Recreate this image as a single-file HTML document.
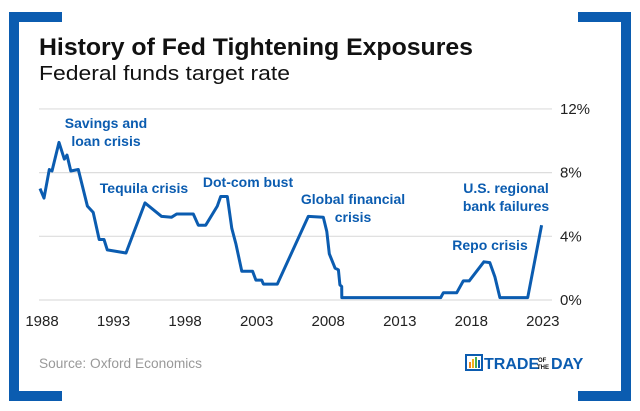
<!DOCTYPE html>
<html><head><meta charset="utf-8"><style>
body{margin:0;background:#fff;font-family:"Liberation Sans",sans-serif}
svg{display:block}
</style></head><body>
<svg width="640" height="411" viewBox="0 0 640 411">
<g fill="#0b5cb0">
<rect x="9" y="12" width="10" height="389"/><rect x="9" y="12" width="53" height="10"/><rect x="9" y="391" width="53" height="10"/>
<rect x="621" y="12" width="10" height="389"/><rect x="578" y="12" width="53" height="10"/><rect x="578" y="391" width="53" height="10"/>
</g>
<text x="39" y="55" font-size="24" font-weight="bold" fill="#111" textLength="434" lengthAdjust="spacingAndGlyphs">History of Fed Tightening Exposures</text>
<text x="39" y="80" font-size="20" fill="#111" textLength="251" lengthAdjust="spacingAndGlyphs">Federal funds target rate</text>
<g id="grid"></g><g id="xt"></g><g id="yt"></g>
<path id="line" fill="none" stroke="#0b5cb0" stroke-width="3" stroke-linejoin="round"/>
<g font-size="14" font-weight="bold" fill="#0b5cb0" text-anchor="middle">
<text x="106" y="128">Savings and</text>
<text x="106" y="146">loan crisis</text>
<text x="144" y="193">Tequila crisis</text>
<text x="248" y="187">Dot-com bust</text>
<text x="353" y="204">Global financial</text>
<text x="353" y="222">crisis</text>
<text x="506" y="193">U.S. regional</text>
<text x="506" y="211">bank failures</text>
<text x="490" y="250">Repo crisis</text>
</g>
<text x="39" y="368" font-size="14" fill="#999" textLength="163" lengthAdjust="spacingAndGlyphs">Source: Oxford Economics</text>
<g>
<rect x="466" y="355" width="16" height="15" fill="none" stroke="#0b5cb0" stroke-width="2"/>
<rect x="469" y="362" width="2" height="6" fill="#f28a1b"/><rect x="472" y="359" width="2" height="9" fill="#f2b01b"/><rect x="475" y="357" width="2" height="11" fill="#4cae4c"/><rect x="478" y="360" width="2" height="8" fill="#0b5cb0"/>
<text x="484" y="369" font-size="16" font-weight="bold" fill="#0b5cb0">TRADE</text>
<text x="538" y="362" font-size="6" font-weight="bold" fill="#111">OF</text>
<text x="537" y="369" font-size="6" font-weight="bold" fill="#111">THE</text>
<text x="551" y="369" font-size="16" font-weight="bold" fill="#0b5cb0">DAY</text>
</g>
</svg>
<script>
const years=[1987.86,1988.14,1988.51,1988.70,1989.19,1989.56,1989.75,1990.01,1990.54,1991.17,1991.58,1992.00,1992.33,1992.56,1993.87,1995.20,1996.36,1997.06,1997.41,1998.57,1998.92,1999.44,2000.25,2000.49,2000.95,2001.26,2001.56,2001.96,2002.72,2002.95,2003.35,2003.47,2004.44,2006.61,2007.66,2007.90,2008.08,2008.48,2008.71,2008.82,2008.94,2008.95,2015.86,2016.04,2016.98,2017.44,2017.85,2018.88,2019.29,2019.65,2020.0,2021.94,2022.91];
const rates=[7.0,6.4,8.2,8.1,9.9,8.85,9.1,8.1,8.2,5.9,5.5,3.8,3.8,3.15,2.95,6.1,5.25,5.2,5.4,5.4,4.7,4.7,5.9,6.5,6.5,4.5,3.5,1.8,1.8,1.25,1.25,1.0,1.0,5.25,5.2,4.3,2.9,2.0,1.9,0.95,0.85,0.15,0.15,0.45,0.45,1.2,1.2,2.4,2.35,1.45,0.15,0.15,4.7];
const xTicks=[1988,1993,1998,2003,2008,2013,2018,2023];
const yTicks=[0,4,8,12];
const xs=y=>42+(y-1988)*14.31;
const ys=v=>300-v*15.92;
const NS="http://www.w3.org/2000/svg";
const grid=document.getElementById('grid'),yt=document.getElementById('yt'),xt=document.getElementById('xt');
yTicks.forEach(v=>{
 const l=document.createElementNS(NS,'line');
 l.setAttribute('x1',39);l.setAttribute('x2',552);l.setAttribute('y1',ys(v));l.setAttribute('y2',ys(v));
 l.setAttribute('stroke','#ddd');l.setAttribute('stroke-width','1.2');
 
 
 grid.appendChild(l);
 const t=document.createElementNS(NS,'text');
 t.setAttribute('x',560);t.setAttribute('y',ys(v)+5);t.setAttribute('font-size','15');t.setAttribute('fill','#222');
 t.textContent=v+'%';
 
 
 yt.appendChild(t);
});
xTicks.forEach(y=>{
 const t=document.createElementNS(NS,'text');
 t.setAttribute('x',xs(y));t.setAttribute('y',326);t.setAttribute('font-size','15');t.setAttribute('fill','#222');t.setAttribute('text-anchor','middle');
 t.textContent=y;
 
 
 xt.appendChild(t);
});
document.getElementById('line').setAttribute('d',years.map((y,i)=>(i?'L':'M')+xs(y).toFixed(1)+','+ys(rates[i]).toFixed(1)).join(''));
</script>
</body></html>
